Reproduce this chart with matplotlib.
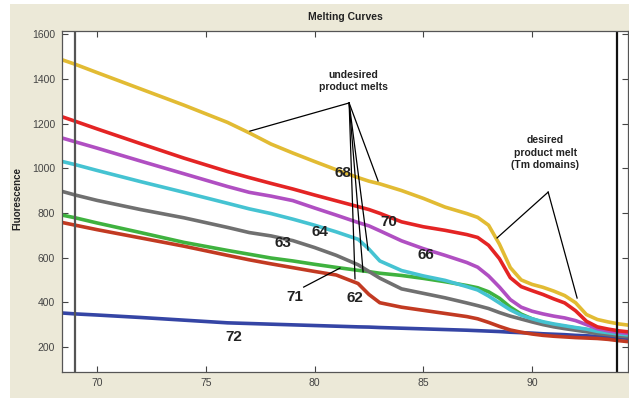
import matplotlib
matplotlib.use("Agg")
import matplotlib.pyplot as plt
from matplotlib.patches import Rectangle

plt.rcParams['font.family'] = ['Liberation Sans', 'DejaVu Sans']

# ---------------- data ----------------
temperature = [68.4, 69, 70, 72, 74, 76, 77, 78, 79, 80, 81, 82, 82.5, 83, 84, 85, 86, 87,
               87.5, 88, 88.5, 89, 89.5, 90, 90.5, 91, 91.5, 92, 92.5, 93, 93.5, 94, 94.4]

curve_68 = [1485, 1465, 1428, 1355, 1282, 1205, 1158, 1108, 1068, 1030, 993, 958, 942, 930, 900, 865, 826, 797,
            780, 745, 660, 555, 500, 480, 467, 450, 430, 398, 345, 323, 312, 303, 298]
curve_70 = [1230, 1210, 1176, 1110, 1045, 985, 958, 932, 907, 880, 854, 828, 815, 798, 760, 738, 722, 703,
            690, 655, 595, 510, 470, 452, 435, 415, 397, 362, 315, 290, 280, 272, 268]
curve_66 = [1135, 1118, 1090, 1032, 975, 918, 892, 875, 855, 822, 790, 757, 742, 720, 675, 640, 610, 578,
            557, 518, 468, 412, 378, 360, 348, 338, 330, 318, 300, 282, 272, 265, 261]
curve_64 = [1030, 1016, 990, 940, 892, 843, 818, 797, 772, 745, 715, 682, 638, 585, 542, 518, 498, 470,
            455, 428, 397, 366, 342, 326, 313, 303, 295, 287, 280, 270, 264, 258, 254]
curve_63 = [896, 880, 856, 815, 778, 735, 712, 697, 676, 645, 610, 568, 538, 508, 460, 440, 420, 397,
            385, 372, 354, 338, 325, 312, 300, 290, 282, 275, 268, 260, 255, 249, 246]
curve_71 = [790, 778, 755, 712, 668, 632, 615, 598, 585, 570, 556, 543, 537, 530, 520, 507, 492, 475,
            465, 447, 418, 378, 347, 326, 310, 300, 292, 285, 278, 270, 264, 258, 254]
curve_62 = [757, 745, 725, 688, 651, 610, 590, 572, 555, 538, 522, 484, 435, 398, 378, 364, 350, 336,
            326, 310, 292, 276, 266, 258, 252, 248, 245, 242, 240, 238, 234, 228, 224]
curve_72 = [352, 348, 343, 332, 320, 308, 305, 302, 299, 296, 293, 290, 289, 287, 284, 281, 278, 275,
            273, 271, 269, 266, 264, 262, 259, 257, 255, 252, 250, 247, 244, 241, 239]

series_names = ["72", "62", "71", "63", "64", "66", "70", "68"]
series_values = [curve_72, curve_62, curve_71, curve_63, curve_64, curve_66, curve_70, curve_68]
series_colors = ["#3545a5", "#c23a22", "#3fb23f", "#707070", "#45c3d2", "#b04fc2", "#e42424", "#e2bb33"]

x_ticks = [70, 75, 80, 85, 90]
y_ticks = [200, 400, 600, 800, 1000, 1200, 1400, 1600]

# labels on curves: (text, x, y)
curve_labels = [("68", 81.3, 978), ("70", 83.4, 759), ("64", 80.25, 714), ("63", 78.55, 665),
                ("66", 85.1, 612), ("71", 79.1, 424), ("62", 81.86, 419), ("72", 76.3, 245)]

# annotation pointer lines
undesired_apex = (81.59, 1292)
undesired_targets = [(77.03, 1166), (82.92, 943), (81.86, 505), (82.23, 536), (82.46, 634)]
desired_apex = (90.74, 893)
desired_targets = [(88.39, 688), (92.07, 419)]
label71_line = [(79.5, 468), (81.17, 553)]

# ---------------- figure ----------------
W, H = 629, 398
fig = plt.figure(figsize=(W / 100, H / 100), dpi=100, facecolor="white")
fig.patches.append(Rectangle((10 / W, 0), 1 - 10 / W, 1 - 4 / H, transform=fig.transFigure,
                             facecolor="#ece9d8", edgecolor="none", zorder=-10))

ax = fig.add_axes([62 / W, (H - 372) / H, (628 - 62) / W, (372 - 31) / H])
ax.set_facecolor("white")

for vals, col in zip(series_values, series_colors):
    ax.plot(temperature, vals, color=col, lw=2.6, solid_capstyle="round", solid_joinstyle="round")

# vertical cursor lines
ax.axvline(69.0, color="#555555", lw=1.6)
ax.axvline(93.9, color="#111111", lw=1.6)

ax.set_xlim(68.39, 94.41)
ax.set_ylim(88, 1614)
ax.set_xticks(x_ticks)
ax.set_xticklabels([str(t) for t in x_ticks])
ax.set_yticks(y_ticks)
ax.set_yticklabels([str(t) for t in y_ticks])
ax.tick_params(direction="in", top=True, right=True, length=4, width=0.8,
               labelsize=7.5, labelcolor="#444444", color="#444444")
ax.tick_params(axis="y", pad=5)
ax.tick_params(axis="x", pad=4)
for s in ax.spines.values():
    s.set_color("#555555")
    s.set_linewidth(0.9)

for txt, x, y in curve_labels:
    ax.text(x, y, txt, fontsize=11, fontweight="bold", color="#222222", ha="center", va="center", zorder=6)

for tx, ty in undesired_targets:
    ax.plot([undesired_apex[0], tx], [undesired_apex[1], ty], color="black", lw=0.9, zorder=5)
for tx, ty in desired_targets:
    ax.plot([desired_apex[0], tx], [desired_apex[1], ty], color="black", lw=0.9, zorder=5)
ax.plot([p[0] for p in label71_line], [p[1] for p in label71_line], color="black", lw=0.9, zorder=5)

ax.text(81.8, 1390, "undesired\nproduct melts", fontsize=7.5, fontweight="bold", color="#222222",
        ha="center", va="center", linespacing=1.3)
ax.text(90.6, 1070, "desired\nproduct melt\n(Tm domains)", fontsize=7.5, fontweight="bold",
        color="#222222", ha="center", va="center", linespacing=1.3)

fig.text(345 / W, 1 - 17 / H, "Melting Curves", fontsize=7.5, fontweight="bold", color="#222222",
         ha="center", va="center")
fig.text(17 / W, 0.5, "Fluorescence", fontsize=7, fontweight="bold", color="#222222",
         rotation=90, ha="center", va="center")

fig.savefig("out.png", dpi=100, facecolor=fig.get_facecolor())
